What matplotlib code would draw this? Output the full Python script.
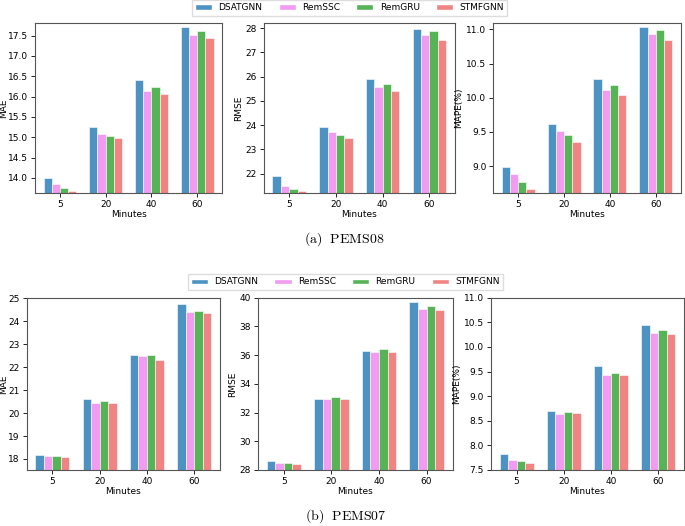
import matplotlib
matplotlib.use("Agg")
import matplotlib.pyplot as plt
import numpy as np
from matplotlib.patches import Patch

plt.rcParams['mathtext.fontset'] = 'cm'

horizons = ["5", "20", "40", "60"]
models = ["DSATGNN", "RemSSC", "RemGRU", "STMFGNN"]
colors = ['#4C92C3', '#F19BF1', '#56B356', '#F08483']

# PEMS08
p08_mae = {"DSATGNN": [14.00, 15.26, 16.41, 17.71],
           "RemSSC": [13.85, 15.09, 16.14, 17.52],
           "RemGRU": [13.76, 15.04, 16.23, 17.61],
           "STMFGNN": [13.69, 14.98, 16.07, 17.45]}
p08_rmse = {"DSATGNN": [21.89, 23.94, 25.91, 27.96],
            "RemSSC": [21.49, 23.72, 25.57, 27.71],
            "RemGRU": [21.38, 23.59, 25.69, 27.88],
            "STMFGNN": [21.28, 23.46, 25.40, 27.51]}
p08_mape = {"DSATGNN": [8.99, 9.62, 10.27, 11.03],
            "RemSSC": [8.88, 9.52, 10.11, 10.93],
            "RemGRU": [8.76, 9.45, 10.18, 10.995],
            "STMFGNN": [8.66, 9.35, 10.04, 10.85]}
# PEMS07
p07_mae = {"DSATGNN": [18.17, 20.62, 22.54, 24.74],
           "RemSSC": [18.14, 20.45, 22.49, 24.41],
           "RemGRU": [18.13, 20.51, 22.51, 24.45],
           "STMFGNN": [18.09, 20.43, 22.33, 24.36]}
p07_rmse = {"DSATGNN": [28.65, 32.95, 36.26, 39.67],
            "RemSSC": [28.51, 32.93, 36.24, 39.18],
            "RemGRU": [28.46, 33.07, 36.45, 39.39],
            "STMFGNN": [28.42, 32.93, 36.24, 39.14]}
p07_mape = {"DSATGNN": [7.82, 8.70, 9.61, 10.45],
            "RemSSC": [7.71, 8.645, 9.43, 10.28],
            "RemGRU": [7.68, 8.68, 9.47, 10.35],
            "STMFGNN": [7.635, 8.665, 9.42, 10.26]}

fig = plt.figure(figsize=(6.85, 5.26), dpi=100)

FS = 6.5
width = 0.18
x = np.arange(len(horizons))

def draw(rect, data, ylabel, ylim, yticks, label_x=None):
    ax = fig.add_axes(rect)
    for i, m in enumerate(models):
        ax.bar(x + (i - 1.5) * width, data[m], width, color=colors[i],
               edgecolor='white', linewidth=0.4, label=m)
    ax.set_xticks(x)
    ax.set_xticklabels(horizons, fontsize=FS)
    ax.set_ylim(*ylim)
    ax.set_yticks(yticks)
    ax.tick_params(axis='y', labelsize=FS, length=3, width=0.6, pad=2)
    ax.tick_params(axis='x', length=3, width=0.6, pad=2)
    ax.set_ylabel(ylabel, fontsize=FS, labelpad=2)
    if label_x is not None:
        ax.yaxis.set_label_coords(label_x, 0.5)
    ax.set_xlabel("Minutes", fontsize=FS, labelpad=1)
    for s in ax.spines.values():
        s.set_color('#555555')
        s.set_linewidth(0.8)
    return ax

# top row
draw([0.0511, 0.633, 0.273, 0.324], p08_mae, "MAE", (13.63, 17.82),
     [14.0, 14.5, 15.0, 15.5, 16.0, 16.5, 17.0, 17.5], label_x=-0.142)
draw([0.385, 0.633, 0.279, 0.324], p08_rmse, "RMSE", (21.2, 28.23),
     [22, 23, 24, 25, 26, 27, 28])
draw([0.720, 0.633, 0.274, 0.324], p08_mape, "MAPE(%)", (8.605, 11.1),
     [9.0, 9.5, 10.0, 10.5, 11.0])
# bottom row
draw([0.039, 0.1065, 0.282, 0.3276], p07_mae, "MAE", (17.52, 25.03),
     [18, 19, 20, 21, 22, 23, 24, 25], label_x=-0.098)
draw([0.3766, 0.1065, 0.284, 0.3276], p07_rmse, "RMSE", (28, 40),
     [28, 30, 32, 34, 36, 38, 40])
draw([0.7164, 0.1065, 0.282, 0.3276], p07_mape, "MAPE(%)", (7.5, 11.0),
     [7.5, 8.0, 8.5, 9.0, 9.5, 10.0, 10.5, 11.0])

handles = [Patch(facecolor=colors[i], edgecolor='white', label=m) for i, m in enumerate(models)]
for (cx, cy) in [(0.510, 0.985), (0.504, 0.464)]:
    fig.legend(handles=handles, loc='center', bbox_to_anchor=(cx, cy), ncol=4,
               fontsize=FS, frameon=True, fancybox=False, edgecolor='#dddddd',
               handlelength=1.9, handleheight=0.55, columnspacing=1.8,
               borderpad=0.35, handletextpad=0.7, framealpha=1)

fig.text(0.502, 1 - 243 / 526, r'$\mathrm{(a)\ \ PEMS08}$', ha='center', va='baseline', fontsize=10)
fig.text(0.505, 1 - 520 / 526, r'$\mathrm{(b)\ \ PEMS07}$', ha='center', va='baseline', fontsize=10)

fig.savefig("out.png", dpi=100)
